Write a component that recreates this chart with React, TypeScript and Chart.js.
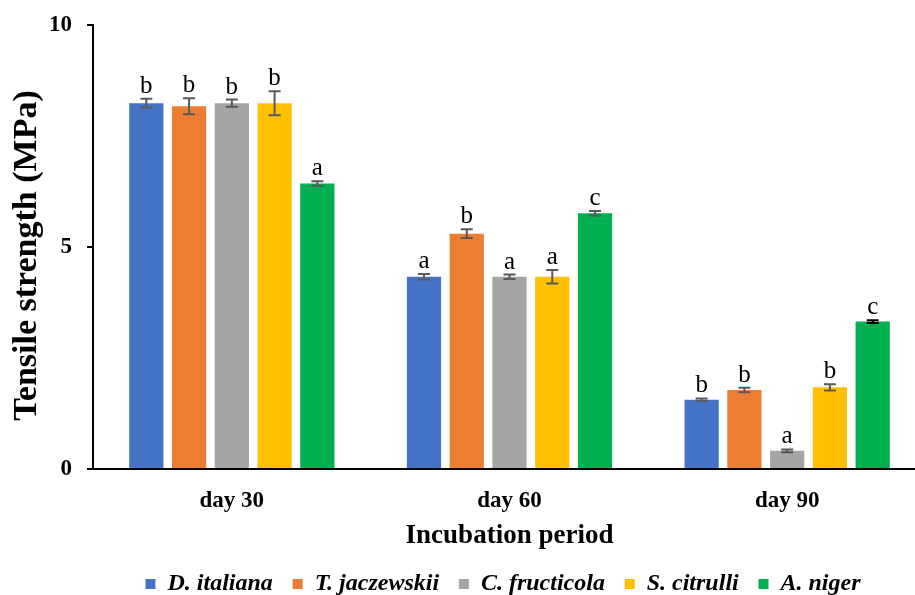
import React, { useEffect, useRef } from "react";
import { Chart, registerables } from "chart.js";

Chart.register(...registerables);

const categories = ["day 30", "day 60", "day 90"];
const seriesNames = ["D. italiana", "T. jaczewskii", "C. fructicola", "S. citrulli", "A. niger"];
const dItaliana = [8.24, 4.33, 1.56];
const tJaczewskii = [8.17, 5.3, 1.78];
const cFructicola = [8.24, 4.33, 0.41];
const sCitrulli = [8.24, 4.33, 1.84];
const aNiger = [6.43, 5.76, 3.32];
const errDItaliana = [0.1, 0.06, 0.03];
const errTJaczewskii = [0.18, 0.1, 0.05];
const errCFructicola = [0.08, 0.05, 0.03];
const errSCitrulli = [0.27, 0.15, 0.07];
const errANiger = [0.05, 0.05, 0.03];
const lettersDItaliana = ["b", "a", "b"];
const lettersTJaczewskii = ["b", "b", "b"];
const lettersCFructicola = ["b", "a", "a"];
const lettersSCitrulli = ["b", "a", "b"];
const lettersANiger = ["a", "c", "c"];
const colors = ["#4472C4", "#ED7D31", "#A5A5A5", "#FFC000", "#00B050"];
const yTicks = [0, 5, 10];

const values = [dItaliana, tJaczewskii, cFructicola, sCitrulli, aNiger];
const errors = [errDItaliana, errTJaczewskii, errCFructicola, errSCitrulli, errANiger];
const letters = [lettersDItaliana, lettersTJaczewskii, lettersCFructicola, lettersSCitrulli, lettersANiger];

const SERIF = "'Liberation Serif', 'Times New Roman', serif";

const errorBarPlugin = {
  id: "errorBars",
  afterDatasetsDraw(chart: any) {
    const ctx = chart.ctx;
    const y = chart.scales.y;
    chart.data.datasets.forEach((ds: any, di: number) => {
      const meta = chart.getDatasetMeta(di);
      meta.data.forEach((bar: any, i: number) => {
        const v = ds.data[i];
        const e = errors[di][i];
        const top = y.getPixelForValue(v + e);
        const bot = y.getPixelForValue(v - e);
        const x = bar.x;
        ctx.save();
        ctx.strokeStyle = di === 4 && i === 2 ? "#000" : "#595959";
        ctx.lineWidth = 2;
        ctx.beginPath();
        ctx.moveTo(x, top);
        ctx.lineTo(x, bot);
        ctx.moveTo(x - 6, top);
        ctx.lineTo(x + 6, top);
        ctx.moveTo(x - 6, bot);
        ctx.lineTo(x + 6, bot);
        ctx.stroke();
        ctx.fillStyle = "#000";
        ctx.font = "25px " + SERIF;
        ctx.textAlign = "center";
        ctx.textBaseline = "alphabetic";
        ctx.fillText(letters[di][i], x, top - 6);
        ctx.restore();
      });
    });
  },
};

const legendShiftPlugin = {
  id: "legendShift",
  afterLayout(chart: any) {
    const lg = chart.legend;
    if (lg) {
      lg.left += 39;
      lg.right += 39;
    }
  },
};

export default function App() {
  const ref = useRef<HTMLCanvasElement>(null);
  useEffect(() => {
    const chart = new Chart(ref.current!, {
      type: "bar",
      data: {
        labels: categories,
        datasets: seriesNames.map((name, i) => ({
          label: name,
          data: values[i],
          backgroundColor: colors[i],
          borderWidth: 0,
          barPercentage: 0.8,
          categoryPercentage: 0.77,
        })),
      },
      options: {
        animation: false,
        responsive: false,
        maintainAspectRatio: false,
        layout: { padding: { top: 25, right: 0, left: 2, bottom: -11 } },
        plugins: {
          tooltip: { enabled: false },
          legend: {
            position: "bottom",
            labels: {
              boxWidth: 10,
              boxHeight: 10,
              padding: 3,
              color: "#000",
              font: { family: SERIF, size: 24, style: "italic", weight: "bold" },
              generateLabels: (chart: any) => {
                const base = Chart.defaults.plugins.legend.labels.generateLabels(chart);
                return base.map((l: any, i: number) => ({
                  ...l,
                  text: i < base.length - 1 ? l.text + "  \u2009" : l.text,
                }));
              },
            },
          },
        },
        scales: {
          x: {
            afterFit: (s: any) => {
              s.height = 100;
            },
            grid: { display: false, drawTicks: false },
            border: { display: true, color: "#000", width: 2 },
            ticks: {
              color: "#000",
              padding: 18,
              font: { family: SERIF, size: 23, weight: "bold" },
            },
            title: {
              display: true,
              text: "Incubation period",
              color: "#000",
              font: { family: SERIF, size: 27, weight: "bold" },
              padding: { top: 4, bottom: 17 },
            },
          },
          y: {
            min: 0,
            max: 10,
            afterFit: (s: any) => {
              s.width = 91;
              s.paddingTop = 0;
              s.paddingBottom = 0;
            },
            afterBuildTicks: (s: any) => {
              s.ticks = yTicks.map((v) => ({ value: v }));
            },
            grid: {
              display: true,
              drawOnChartArea: false,
              drawTicks: true,
              tickLength: 6,
              color: "#000",
              lineWidth: 2,
            },
            border: { display: true, color: "#000", width: 2 },
            ticks: {
              color: "#000",
              padding: 15,
              font: { family: SERIF, size: 23, weight: "bold" },
            },
            title: {
              display: true,
              text: "Tensile strength (MPa)  ",
              color: "#000",
              font: { family: SERIF, size: 34, weight: "bold" },
              padding: { top: 5, bottom: 4 },
            },
          },
        },
      },
      plugins: [errorBarPlugin, legendShiftPlugin],
    });
    return () => chart.destroy();
  }, []);
  return (
    <div style={{ position: "absolute", left: 0, top: 0, width: 915, height: 595, overflow: "hidden", background: "#fff" }}>
      <canvas ref={ref} width={926} height={595} style={{ width: 926, height: 595, display: "block" }} />
    </div>
  );
}
